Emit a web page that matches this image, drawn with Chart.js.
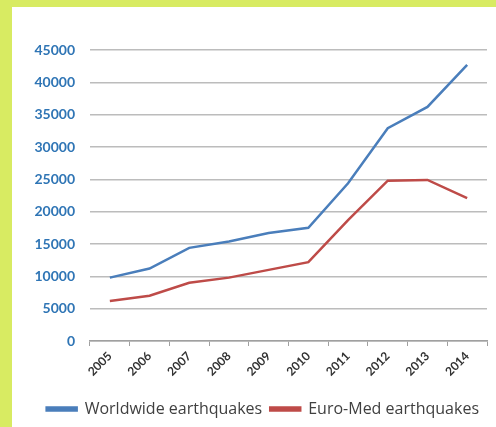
<!DOCTYPE html>
<html>
<head>
<meta charset="utf-8">
<script src="https://cdn.jsdelivr.net/npm/chart.js@4"></script>
<style>
  html, body { margin: 0; padding: 0; }
  body { width: 496px; height: 427px; background: #d8eb62; position: relative; overflow: hidden; }
  #box { position: absolute; left: 12px; top: 7px; width: 484px; height: 420px; background: #fff; }
</style>
</head>
<body>
<div id="box"><canvas id="quakeChart" width="484" height="420"></canvas></div>
<script>
const years = ['2005', '2006', '2007', '2008', '2009', '2010', '2011', '2012', '2013', '2014'];
const worldwide = [9800, 11200, 14400, 15400, 16700, 17500, 24400, 32900, 36200, 42700];
const euroMed = [6200, 7000, 9000, 9800, 11000, 12200, 18700, 24800, 24900, 22100];

const ctx = document.getElementById('quakeChart').getContext('2d');
new Chart(ctx, {
  type: 'line',
  data: {
    labels: years,
    datasets: [
      { label: 'Worldwide earthquakes', data: worldwide, borderColor: '#4a7ebb', backgroundColor: '#4a7ebb', borderWidth: 2.5, pointRadius: 0, tension: 0 },
      { label: 'Euro-Med earthquakes', data: euroMed, borderColor: '#be4b48', backgroundColor: '#be4b48', borderWidth: 2.5, pointRadius: 0, tension: 0 }
    ]
  },
  options: {
    responsive: false,
    animation: false,
    layout: { padding: { top: 43, right: 9, left: 0, bottom: 0 } },
    plugins: {
      tooltip: { enabled: false },
      legend: {
        position: 'bottom',
        align: 'end',
        labels: {
          boxWidth: 30,
          boxHeight: 3,
          padding: 8,
          color: '#404040',
          font: { family: 'Open Sans', size: 16 }
        }
      }
    },
    scales: {
      x: {
        offset: true,
        grid: { drawOnChartArea: false, drawTicks: true, tickLength: 5, color: '#a0a0a0', offset: true },
        border: { display: true, color: '#a0a0a0', width: 1.5 },
        ticks: { minRotation: 45, maxRotation: 45, color: '#333', font: { family: 'Lato', size: 12, weight: 'bold' } },
        afterFit: scale => { scale.height = 52; }
      },
      y: {
        min: 0,
        max: 45000,
        grid: { color: '#bcbcbc', lineWidth: 1.5, drawTicks: false },
        border: { display: false },
        ticks: {
          stepSize: 5000,
          padding: 15,
          color: '#2f75b5',
          font: { family: 'Lato', size: 14, weight: 'bold' },
          callback: v => String(v)
        },
        afterFit: scale => { scale.width = 78; }
      }
    }
  }
});
</script>
</body>
</html>
